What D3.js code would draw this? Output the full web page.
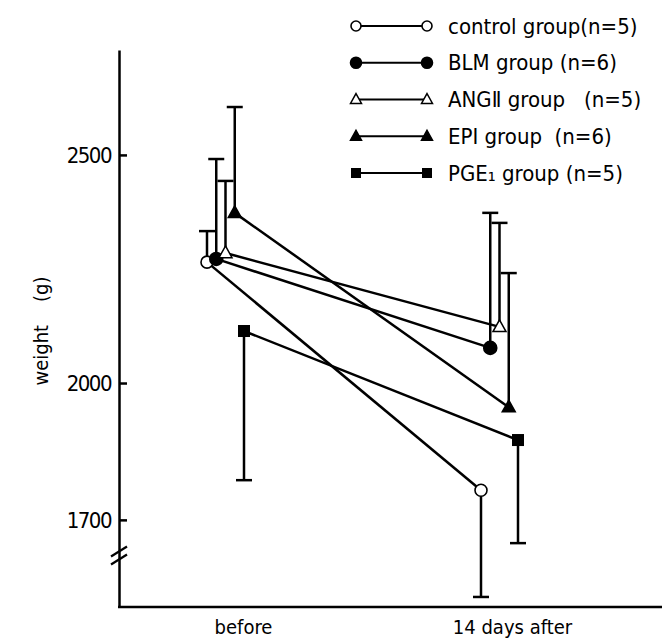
<!DOCTYPE html>
<html>
<head>
<meta charset="utf-8">
<script src="https://cdn.jsdelivr.net/npm/d3@7"></script>
<style>
  body { margin: 0; background: #fff; }
  text { font-family: "DejaVu Sans Condensed", "DejaVu Sans", sans-serif; font-stretch: condensed; fill: #000; white-space: pre; }
</style>
</head>
<body>
<div id="chart"></div>
<script>
// body weight before and 14 days after, mean with one-sided SD bar
const times = ['before', '14 days after'];
const groups = ['control group(n=5)', 'BLM group (n=6)', 'ANG\u2161 group   (n=5)', 'EPI group  (n=6)', 'PGE\u2081 group (n=5)'];
const markers = ['circleOpen', 'circle', 'triangleOpen', 'triangle', 'square'];
const meanBefore = [2265, 2272, 2285, 2373, 2114];
const meanAfter = [1765, 2077, 2123, 1947, 1875];
const sdBefore = [68, 219, 158, 232, 327];
const sdAfter = [234, 296, 228, 294, 226];
// +1 bar drawn upward, -1 drawn downward
const dirBefore = [1, 1, 1, 1, -1];
const dirAfter = [-1, 1, 1, 1, -1];
const yTicks = [1700, 2000, 2500];
const breakValue = 1622;

const width = 662, height = 640;

const svg = d3.select('#chart').append('svg').attr('width', width).attr('height', height);

const y = d3.scaleLinear().domain([1509, 2730]).range([607, 50]);
const x = d3.scalePoint().domain(times).range([226, 500]);
const xLabel = d3.scalePoint().domain(times).range([243, 512]);
const offset = d3.scalePoint().domain(groups).range([-19, 18]);

const data = groups.map((g, i) => ({
    name: g,
    marker: markers[i],
    points: [
        {t: times[0], v: meanBefore[i], sd: sdBefore[i], dir: dirBefore[i]},
        {t: times[1], v: meanAfter[i], sd: sdAfter[i], dir: dirAfter[i]}
    ]
}));

const axisLeftX = 119;
const font = '"DejaVu Sans Condensed", "DejaVu Sans", sans-serif';

// y axis
const yAxis = svg.append('g')
    .attr('transform', 'translate(' + axisLeftX + ',0)')
    .call(d3.axisLeft(y).tickValues(yTicks).tickSizeInner(-8).tickSizeOuter(0).tickPadding(8).tickFormat(d3.format('d')));
yAxis.select('.domain').attr('stroke-width', 2.5);
yAxis.selectAll('.tick line').attr('stroke-width', 2.5);
yAxis.selectAll('.tick text').attr('font-size', 22).attr('dy', '0.36em')
    .attr('font-family', font).attr('letter-spacing', -1.5);

// axis break marks
[-4, 4].forEach((d) => {
    svg.append('line')
        .attr('x1', axisLeftX - 8).attr('y1', y(breakValue) + d + 5)
        .attr('x2', axisLeftX + 8).attr('y2', y(breakValue) + d - 5)
        .attr('stroke', '#000').attr('stroke-width', 2.2);
});

// x axis
svg.append('line')
    .attr('x1', axisLeftX - 1).attr('x2', width)
    .attr('y1', y(1509)).attr('y2', y(1509))
    .attr('stroke', '#000').attr('stroke-width', 2.5);
const xAxis = svg.append('g')
    .attr('transform', 'translate(0,' + y(1509) + ')')
    .call(d3.axisBottom(xLabel).tickSize(0).tickPadding(13));
xAxis.select('.domain').remove();
xAxis.selectAll('.tick text').attr('font-size', 20)
    .attr('font-family', font);

// y label
svg.append('text')
    .attr('transform', 'translate(48,331) rotate(-90)')
    .attr('text-anchor', 'middle')
    .attr('font-size', 20)
    .text('weight    (g)');

function drawMarker(sel, type, cx, cy, s) {
    if (type === 'circleOpen' || type === 'circle') {
        sel.append('circle').attr('cx', cx).attr('cy', cy).attr('r', s)
            .attr('fill', type === 'circle' ? '#000' : '#fff')
            .attr('stroke', '#000').attr('stroke-width', 1.6);
    } else if (type === 'square') {
        sel.append('rect').attr('x', cx - s).attr('y', cy - s)
            .attr('width', 2 * s).attr('height', 2 * s).attr('fill', '#000');
    } else {
        const h = s * 1.8;
        sel.append('path')
            .attr('d', 'M' + cx + ',' + (cy - h * 0.6) + 'L' + (cx + s) + ',' + (cy + h * 0.4) + 'L' + (cx - s) + ',' + (cy + h * 0.4) + 'Z')
            .attr('fill', type === 'triangle' ? '#000' : '#fff')
            .attr('stroke', '#000').attr('stroke-width', 1.5);
    }
}

const px = (g, d) => x(d.t) + offset(g.name);

// error bars
const bars = svg.append('g');
data.forEach((g) => {
    g.points.forEach((d) => {
        const xx = px(g, d);
        const yEnd = y(d.v + d.dir * d.sd);
        bars.append('line').attr('x1', xx).attr('x2', xx)
            .attr('y1', y(d.v)).attr('y2', yEnd)
            .attr('stroke', '#000').attr('stroke-width', 2.5);
        bars.append('line').attr('x1', xx - 8).attr('x2', xx + 8)
            .attr('y1', yEnd).attr('y2', yEnd)
            .attr('stroke', '#000').attr('stroke-width', 2.5);
    });
});

// group lines
const line = d3.line().x((d) => d.x).y((d) => d.y);
svg.append('g').selectAll('path')
    .data(data)
    .enter().append('path')
    .attr('d', (g) => line(g.points.map((d) => ({x: px(g, d), y: y(d.v)}))))
    .attr('fill', 'none').attr('stroke', '#000').attr('stroke-width', 2.5);

// markers
const marks = svg.append('g');
const sizes = {circleOpen: 6, circle: 6.5, triangleOpen: 6.5, triangle: 6.5, square: 6};
data.forEach((g) => {
    g.points.forEach((d) => drawMarker(marks, g.marker, px(g, d), y(d.v), sizes[g.marker]));
});

// legend
const legendY = d3.scalePoint().domain(groups).range([26, 173]);
const legend = svg.append('g');
data.forEach((g) => {
    const ly = legendY(g.name);
    legend.append('line').attr('x1', 356).attr('x2', 427).attr('y1', ly).attr('y2', ly)
        .attr('stroke', '#000').attr('stroke-width', 2);
    drawMarker(legend, g.marker, 356, ly, sizes[g.marker] - 1);
    drawMarker(legend, g.marker, 427, ly, sizes[g.marker] - 1);
    legend.append('text').attr('x', 448).attr('y', ly).attr('dy', '0.35em')
        .attr('font-size', 22).text(g.name);
});
</script>
</body>
</html>
